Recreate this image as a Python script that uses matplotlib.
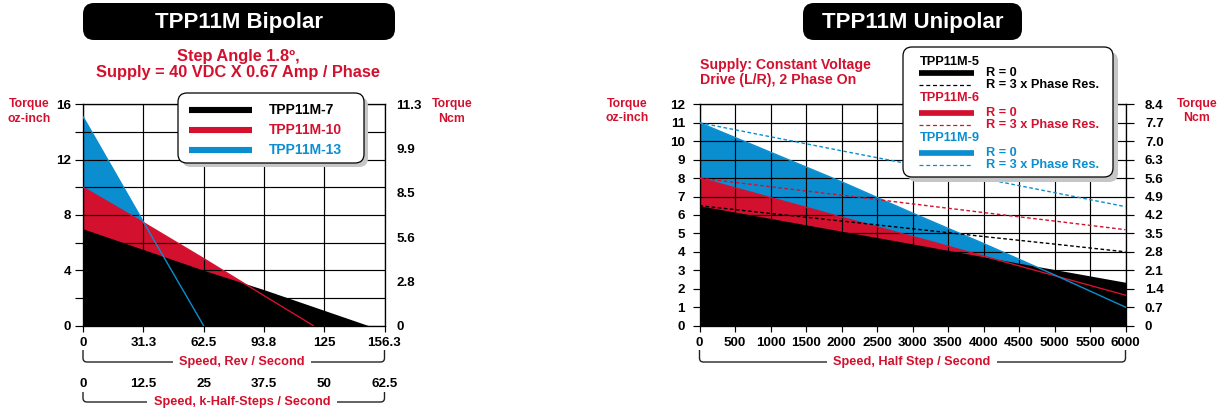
import matplotlib
matplotlib.use('Agg')
import numpy as np
import matplotlib.pyplot as plt
from matplotlib.patches import FancyBboxPatch, PathPatch
from matplotlib.path import Path
from matplotlib.lines import Line2D
from matplotlib.ticker import MultipleLocator

plt.rcParams['font.family'] = ['Liberation Sans', 'DejaVu Sans']
plt.rcParams['font.weight'] = 'bold'

RED = '#D3102E'
BLUE = '#0A8ECF'
BLACK = '#000000'

# ---------------- Bipolar data ----------------
bip_title = 'TPP11M Bipolar'
bip_subtitle = ['Step Angle 1.8º,', 'Supply = 40 VDC X 0.67 Amp / Phase']
bip_speed_ticks = [0, 31.3, 62.5, 93.8, 125, 156.3]
bip_khs_ticks = [0, 12.5, 25, 37.5, 50, 62.5]
bip_torque_ticks = [0, 4, 8, 12, 16]
bip_ncm_labels = ['0', '2.8', '5.6', '8.5', '9.9', '11.3']
bip_names = ['TPP11M-7', 'TPP11M-10', 'TPP11M-13']
bip7_speed = [0, 31.3, 62.5, 93.8, 148]
bip7_torque = [7.0, 5.5, 4.0, 2.6, 0]
bip10_speed = [0, 31.3, 62.5, 93.8, 119.4]
bip10_torque = [10.0, 7.45, 4.85, 2.17, 0]
bip13_speed = [0, 31.3, 62.5]
bip13_torque = [15.1, 7.5, 0]

# ---------------- Unipolar data ----------------
uni_title = 'TPP11M Unipolar'
uni_subtitle = ['Supply: Constant Voltage', 'Drive (L/R), 2 Phase On']
uni_speed_ticks = [0, 500, 1000, 1500, 2000, 2500, 3000, 3500, 4000, 4500, 5000, 5500, 6000]
uni_torque_ticks = [0, 1, 2, 3, 4, 5, 6, 7, 8, 9, 10, 11, 12]
uni_ncm_labels = ['0', '0.7', '1.4', '2.1', '2.8', '3.5', '4.2', '4.9', '5.6', '6.3', '7.0', '7.7', '8.4']
uni_names = ['TPP11M-5', 'TPP11M-6', 'TPP11M-9']
uni_res_labels = ['R = 0', 'R = 3 x Phase Res.']
uni_speed = [0, 1000, 2000, 3000, 4000, 5000, 6000]
uni5_r0 = [6.5, 5.81, 5.12, 4.43, 3.73, 3.04, 2.35]
uni5_r3 = [6.5, 6.08, 5.67, 5.25, 4.83, 4.42, 4.0]
uni6_r0 = [8.0, 6.94, 5.88, 4.83, 3.77, 2.71, 1.65]
uni6_r3 = [8.0, 7.53, 7.07, 6.6, 6.13, 5.67, 5.2]
uni9_r0 = [11.0, 9.4, 7.8, 6.1, 4.45, 2.75, 1.0]
uni9_r3 = [11.0, 10.24, 9.48, 8.73, 7.97, 7.21, 6.45]

W, H = 1230, 412
fig = plt.figure(figsize=(W / 100, H / 100), dpi=100)
T = fig.dpi_scale_trans
TICK_FS = 9.6


def P(x, y):
    return (x / 100, (H - y) / 100)


def ftext(x, y, s, **kw):
    fig.text(x / 100, (H - y) / 100, s, transform=T, **kw)


def title_box(x0, x1, y0, y1, text):
    fig.add_artist(FancyBboxPatch(P(x0, y1), (x1 - x0) / 100, (y1 - y0) / 100,
                                  boxstyle='round,pad=0,rounding_size=0.11',
                                  transform=T, facecolor='black', edgecolor='none'))
    ftext((x0 + x1) / 2, (y0 + y1) / 2 + 1, text, color='white', fontsize=16,
          ha='center', va='center')


def legend_box(x0, x1, y0, y1, sh=4):
    fig.add_artist(FancyBboxPatch(P(x0 + sh, y1 + sh), (x1 - x0) / 100, (y1 - y0) / 100,
                                  boxstyle='round,pad=0,rounding_size=0.09',
                                  transform=T, facecolor='#c4c6c8', edgecolor='none'))
    fig.add_artist(FancyBboxPatch(P(x0, y1), (x1 - x0) / 100, (y1 - y0) / 100,
                                  boxstyle='round,pad=0,rounding_size=0.09',
                                  transform=T, facecolor='white', edgecolor='black', lw=0.9))


def handle(x0, x1, y, color, lw, ls='-'):
    xa, ya = P(x0, y)
    xb, _ = P(x1, y)
    fig.add_artist(Line2D([xa, xb], [ya, ya], transform=T, color=color, lw=lw, ls=ls,
                          solid_capstyle='butt', dash_capstyle='butt'))


def bracket(ax, ytop, ybot, label, xc, r=4):
    bb = ax.get_position()
    x0 = bb.x0 * W
    x1 = bb.x1 * W
    verts = [P(x0, ytop), P(x0, ybot - r), P(x0, ybot), P(x0 + r, ybot),
             P(x1 - r, ybot), P(x1, ybot), P(x1, ybot - r), P(x1, ytop)]
    codes = [Path.MOVETO, Path.LINETO, Path.CURVE3, Path.CURVE3,
             Path.LINETO, Path.CURVE3, Path.CURVE3, Path.LINETO]
    fig.add_artist(PathPatch(Path(verts, codes), transform=T, facecolor='none',
                             edgecolor='#222222', lw=1.0))
    ftext(xc, ybot, label, color=RED, fontsize=9.2, ha='center', va='center',
          bbox=dict(boxstyle='square,pad=0.5', facecolor='white', edgecolor='none'))


# ================= Bipolar chart =================
axL = fig.add_axes([83 / W, 1 - 325.6 / H, 301.5 / W, 221.3 / H])
axL.fill_between(bip13_speed, bip13_torque, 0, color=BLUE, lw=0, zorder=1)
axL.fill_between(bip10_speed, bip10_torque, 0, color=RED, lw=0, zorder=1.1)
axL.fill_between(bip7_speed, bip7_torque, 0, color=BLACK, lw=0, zorder=1.2)
axL.plot(bip10_speed, bip10_torque, color=RED, lw=1.0, zorder=3)
axL.plot(bip13_speed, bip13_torque, color=BLUE, lw=1.0, zorder=3)
axL.set_xlim(0, 156.3)
axL.set_ylim(0, 16)
axL.set_axisbelow(False)
axL.set_xticks(bip_speed_ticks, labels=[f'{v:g}' for v in bip_speed_ticks])
axL.set_yticks(bip_torque_ticks, labels=[f'{v:g}' for v in bip_torque_ticks])
axL.yaxis.set_minor_locator(MultipleLocator(2))
axL.grid(True, which='both', color='black', lw=0.85)
axL.tick_params(axis='y', which='both', left=True, right=True, length=6, width=0.85,
                pad=2.5, labelsize=TICK_FS)
axL.tick_params(axis='x', length=4.5, width=0.85, pad=4.0, labelsize=TICK_FS)
for s in axL.spines.values():
    s.set_linewidth(0.95)
axL2 = axL.twinx()
axL2.set_ylim(0, 16)
axL2.set_yticks(np.linspace(0, 16, len(bip_ncm_labels)), labels=bip_ncm_labels)
axL2.tick_params(length=0, pad=8.4, labelsize=TICK_FS)
for s in axL2.spines.values():
    s.set_visible(False)
secL = axL.secondary_xaxis(-0.226, functions=(lambda x: x * 62.5 / 156.3,
                                               lambda x: x * 156.3 / 62.5))
secL.set_xticks(bip_khs_ticks, labels=[f'{v:g}' for v in bip_khs_ticks])
secL.tick_params(length=0, pad=1.6, labelsize=TICK_FS)
secL.spines['bottom'].set_visible(False)

title_box(83, 395, 3, 40, bip_title)
ftext(238, 56, bip_subtitle[0], color=RED, fontsize=11.8, ha='center', va='center')
ftext(238, 72, bip_subtitle[1], color=RED, fontsize=11.8, ha='center', va='center')
ftext(29, 104, 'Torque', color=RED, fontsize=8.8, ha='center', va='center')
ftext(29, 119, 'oz-inch', color=RED, fontsize=8.8, ha='center', va='center')
ftext(452, 104, 'Torque', color=RED, fontsize=8.8, ha='center', va='center')
ftext(452, 119, 'Ncm', color=RED, fontsize=8.8, ha='center', va='center')
bracket(axL, 350, 362, 'Speed, Rev / Second', 242)
bracket(axL, 392, 402, 'Speed, k-Half-Steps / Second', 242)

legend_box(178, 364, 93, 163)
for name, col, yy in zip(bip_names, [BLACK, RED, BLUE], [110, 130, 150]):
    handle(189, 252, yy, col, 4.4)
    ftext(269, yy, name, color=col, fontsize=10, ha='left', va='center')

# ================= Unipolar chart =================
axR = fig.add_axes([699.5 / W, 1 - 325.6 / H, 426 / W, 221.3 / H])
axR.fill_between(uni_speed, uni9_r0, 0, color=BLUE, lw=0, zorder=1)
axR.fill_between(uni_speed, uni6_r0, 0, color=RED, lw=0, zorder=1.1)
axR.fill_between(uni_speed, uni5_r0, 0, color=BLACK, lw=0, zorder=1.2)
axR.plot(uni_speed, uni6_r0, color=RED, lw=1.0, zorder=3)
axR.plot(uni_speed, uni9_r0, color=BLUE, lw=1.0, zorder=3)
dash = (0, (2.6, 1.8))
axR.plot(uni_speed, uni5_r3, color=BLACK, lw=1.0, ls=dash, zorder=3.5)
axR.plot(uni_speed, uni6_r3, color=RED, lw=1.0, ls=dash, zorder=3.5)
axR.plot(uni_speed, uni9_r3, color=BLUE, lw=1.0, ls=dash, zorder=3.5)
axR.set_xlim(0, 6000)
axR.set_ylim(0, 12)
axR.set_axisbelow(False)
axR.set_xticks(uni_speed_ticks, labels=[f'{v:g}' for v in uni_speed_ticks])
axR.set_yticks(uni_torque_ticks, labels=[f'{v:g}' for v in uni_torque_ticks])
axR.grid(True, color='black', lw=0.85)
axR.tick_params(axis='y', length=5, width=0.85, pad=5.5, labelsize=TICK_FS)
axR.tick_params(axis='x', length=4.5, width=0.85, pad=4.0, labelsize=TICK_FS)
for s in axR.spines.values():
    s.set_linewidth(0.95)
axR2 = axR.twinx()
axR2.set_ylim(0, 12)
axR2.set_yticks(uni_torque_ticks, labels=uni_ncm_labels)
axR2.tick_params(length=6, width=0.85, pad=8.0, labelsize=TICK_FS)
for s in axR2.spines.values():
    s.set_visible(False)

title_box(803, 1022, 3, 40, uni_title)
ftext(700, 65, uni_subtitle[0], color=RED, fontsize=10.2, ha='left', va='center')
ftext(700, 80, uni_subtitle[1], color=RED, fontsize=10.2, ha='left', va='center')
ftext(627, 103.5, 'Torque', color=RED, fontsize=8.8, ha='center', va='center')
ftext(627, 118, 'oz-inch', color=RED, fontsize=8.8, ha='center', va='center')
ftext(1197, 103.5, 'Torque', color=RED, fontsize=8.8, ha='center', va='center')
ftext(1197, 118, 'Ncm', color=RED, fontsize=8.8, ha='center', va='center')
bracket(axR, 350, 362, 'Speed, Half Step / Second', 912)

legend_box(903, 1113, 47, 177, sh=5)
for name, col, y0 in zip(uni_names, [BLACK, RED, BLUE], [62, 98, 138]):
    ftext(920, y0, name, color=col, fontsize=9.2, ha='left', va='center')
    y1 = y0 + (11 if y0 == 62 else 15)
    handle(919, 974, y1, col, 4.1)
    ftext(986, y1, uni_res_labels[0], color=col, fontsize=9.2, ha='left', va='center')
    y2 = y1 + 12
    handle(919, 973, y2, col, 0.9, ls=(0, (3.2, 2.2)))
    ftext(986, y2, uni_res_labels[1], color=col, fontsize=9.2, ha='left', va='center')

fig.savefig('out.png', dpi=100)
